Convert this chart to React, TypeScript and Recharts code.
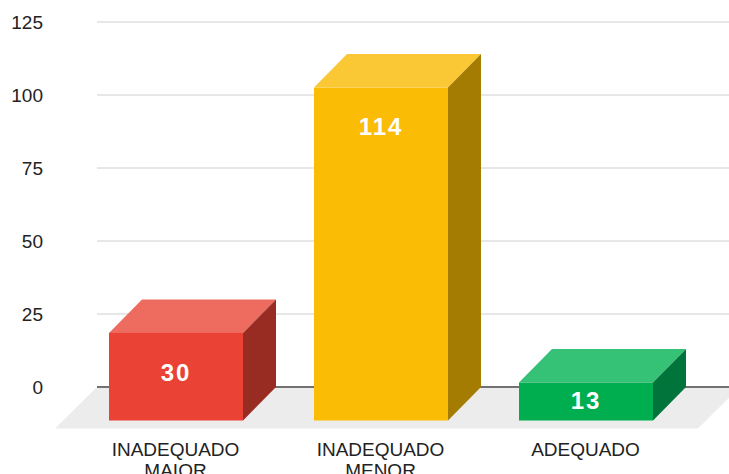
import { BarChart, Bar, XAxis, YAxis, CartesianGrid, ReferenceLine, LabelList } from "recharts";

const categories = ["INADEQUADO MAIOR", "INADEQUADO MENOR", "ADEQUADO"];
const counts = [30, 114, 13];
const yTicks = [0, 25, 50, 75, 100, 125];

const frontColors = ["#EA4335", "#FABC05", "#00AE4F"];
const topColors = ["#EE6B60", "#FAC735", "#35C176"];
const sideColors = ["#982B22", "#A57C02", "#00743A"];

// depth of the fake 3d box
const DX = 33;
const DY = 33.5;

const data = categories.map((name, i) => ({ name, value: counts[i] }));

function Box3D(props: any) {
  const { x, y, width: w, height: h, payload } = props;
  const i = categories.indexOf(payload?.name);
  const fx = x - DX;
  const fy = y + DY;
  return (
    <g>
      <polygon points={`${fx},${fy} ${x},${y} ${x + w},${y} ${fx + w},${fy}`} fill={topColors[i]} />
      <polygon points={`${fx + w},${fy} ${x + w},${y} ${x + w},${y + h} ${fx + w},${fy + h}`} fill={sideColors[i]} />
      <rect x={fx} y={fy} width={w} height={h} fill={frontColors[i]} />
    </g>
  );
}

function Floor(props: any) {
  const { x1, x2, y1 } = props;
  const d = 42;
  return (
    <g>
      <polygon points={`${x1},${y1} ${x2 + 11},${y1} ${x2 + 11 - d},${y1 + 41.5} ${x1 - d},${y1 + 41.5}`} fill="#ececec" />
      <line x1={x1} x2={x2} y1={y1} y2={y1} stroke="#4a4a4a" strokeWidth={1.6} />
    </g>
  );
}

function ValueLabel(props: any) {
  const vb = props.viewBox || {};
  const x = props.x ?? vb.x;
  const y = props.y ?? vb.y;
  const w = props.width ?? vb.width;
  const h = props.height ?? vb.height;
  const top = y + DY;
  const cy = top + Math.min(0.47 * h, 39);
  return (
    <text x={x + w / 2 - DX} y={cy} dy="0.36em" textAnchor="middle" fill="#fff" fontSize={24} fontWeight={700} letterSpacing={2} fontFamily="'Liberation Sans', Arial, sans-serif">
      {props.value}
    </text>
  );
}

function CategoryTick({ x, y, payload }: any) {
  const lines = String(payload.value).split(" ");
  return (
    <text textAnchor="middle" fill="#222" fontSize={19} fontFamily="'Liberation Sans', Arial, sans-serif">
      {lines.map((l, k) => (
        <tspan key={k} x={x - DX} y={y + 68.5 + k * 21}>{l}</tspan>
      ))}
    </text>
  );
}

export default function App() {
  return (
    <div style={{ width: 729, height: 474, background: "#fff" }}>
      <style>{`body{margin:0}`}</style>
      <BarChart width={729} height={474} data={data} margin={{ top: 22, right: 0, bottom: 0, left: 0 }}>
        <CartesianGrid vertical={false} stroke="#d0d0d0" />
        <ReferenceLine y={0} shape={<Floor />} zIndex={-50} />
        <XAxis
          dataKey="name"
          axisLine={false}
          tickLine={false}
          tickSize={0}
          tickMargin={0}
          height={87}
          padding={{ left: 9, right: 8 }}
          interval={0}
          tick={(p: any) => <CategoryTick {...p} />}
        />
        <YAxis
          domain={[0, 125]}
          ticks={yTicks}
          axisLine={false}
          tickLine={false}
          tickSize={0}
          tickMargin={54}
          width={97}
          tick={{ fill: "#222", fontSize: 19, fontFamily: "'Liberation Sans', Arial, sans-serif" }}
        />
        <Bar dataKey="value" barSize={134} shape={<Box3D />} isAnimationActive={false}>
          <LabelList dataKey="value" content={<ValueLabel />} />
        </Bar>
      </BarChart>
    </div>
  );
}
